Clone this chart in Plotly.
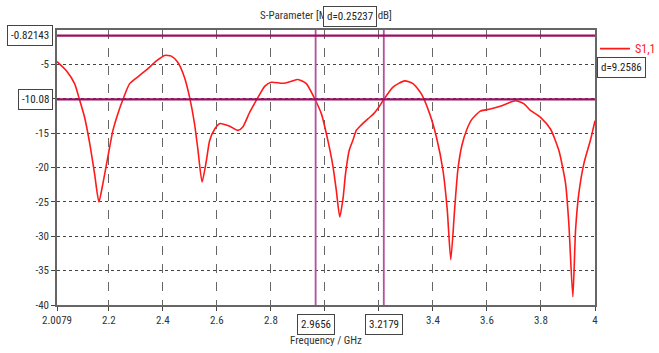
import plotly.graph_objects as go

# ---- data ----
freq_ghz = [2.0079, 2.042, 2.073, 2.091, 2.110, 2.129, 2.147, 2.163, 2.178, 2.196,
            2.215, 2.233, 2.252, 2.277, 2.314, 2.351, 2.376, 2.406, 2.431, 2.455,
            2.480, 2.499, 2.517, 2.530, 2.545, 2.561, 2.573, 2.592, 2.612, 2.647,
            2.678, 2.696, 2.721, 2.752, 2.777, 2.801, 2.845, 2.876, 2.900, 2.931,
            2.962, 2.987, 3.011, 3.030, 3.042, 3.055, 3.067, 3.076, 3.090, 3.104,
            3.116, 3.135, 3.160, 3.180, 3.200, 3.218, 3.252, 3.295, 3.326, 3.357,
            3.388, 3.413, 3.437, 3.453, 3.466, 3.480, 3.492, 3.507, 3.525, 3.544,
            3.575, 3.612, 3.649, 3.680, 3.705, 3.736, 3.761, 3.798, 3.835, 3.866,
            3.891, 3.903, 3.918, 3.928, 3.940, 3.959, 3.984, 4.0]
s11_db = [-4.6, -5.9, -7.8, -10.1, -12.7, -16.5, -20.9, -25.0, -22.3, -18.5,
          -14.6, -12.2, -10.1, -7.8, -6.6, -5.4, -4.5, -3.7, -3.8, -4.7,
          -6.9, -9.8, -13.6, -17.5, -22.1, -19.0, -16.1, -14.4, -13.6, -14.0,
          -14.6, -14.1, -12.0, -9.8, -8.2, -7.6, -7.75, -7.45, -7.2, -7.8,
          -10.0, -12.2, -16.1, -19.9, -23.3, -27.2, -24.5, -21.0, -17.5, -16.0,
          -14.6, -13.8, -12.9, -12.2, -11.2, -10.1, -8.3, -7.4, -7.8, -9.3,
          -12.2, -15.6, -20.4, -26.2, -33.4, -26.2, -20.4, -16.8, -14.5, -13.0,
          -11.8, -11.5, -11.1, -10.6, -10.3, -10.7, -11.7, -12.7, -14.4, -17.5,
          -22.3, -28.1, -38.8, -29.1, -23.8, -19.4, -15.9, -13.2]

marker_x = [2.96556, 3.21793]        # vertical markers (GHz)
marker_y = [-0.82143, -10.08]        # horizontal markers (dB)

x_ticks = [2.0079, 2.2, 2.4, 2.6, 2.8, 3.0, 3.2, 3.4, 3.6, 3.8, 4.0]
x_labels = ["2.0079", "2.2", "2.4", "2.6", "2.8", "", "", "3.4", "3.6", "3.8", "4"]
y_ticks = [-40, -35, -30, -25, -20, -15, -10, -5]
y_labels = ["-40", "-35", "-30", "-25", "-20", "-15", "", "-5"]

FONT = "Roboto Condensed, DejaVu Sans Condensed, Liberation Sans Narrow, Arial Narrow, DejaVu Sans"
H_COL = "#9a0f62"
V_COL = "#b4519c"
TXT = "#333"
FS = 11

def fnt(size=FS, color=TXT):
    return dict(family=FONT, size=size, color=color)

fig = go.Figure()
fig.add_trace(go.Scatter(x=freq_ghz, y=s11_db, mode="lines", name="S1,1",
                         line=dict(color="#ff1a1a", width=1.6, shape="spline", smoothing=0.6)))

shapes = []
for mx in marker_x:
    shapes.append(dict(type="line", xref="x", yref="paper", x0=mx, x1=mx, y0=0, y1=1,
                       line=dict(color=V_COL, width=1.8)))
for my in marker_y:
    shapes.append(dict(type="line", xref="paper", yref="y", x0=0, x1=1, y0=my, y1=my,
                       line=dict(color=H_COL, width=2.2)))

box = dict(bgcolor="white", bordercolor="#444", borderwidth=1, borderpad=3,
           font=fnt(FS, "#222"), showarrow=False)
ann = []
for mx in marker_x:
    ann.append(dict(x=mx, y=0, xref="x", yref="paper", yanchor="top", yshift=-9,
                    text=f"{mx:.4f}", **box))
for my in marker_y:
    ann.append(dict(x=0, y=my, xref="paper", yref="y", xanchor="right", xshift=-4,
                    text=f"{my:g}", **box))
dx = marker_x[1] - marker_x[0]
dy = marker_y[0] - marker_y[1]
ann.append(dict(x=(marker_x[0] + marker_x[1]) / 2, y=1, xref="x", yref="paper",
                yanchor="bottom", yshift=3, text=f"d={dx:.5f}", **box))
ann.append(dict(x=1, y=(marker_y[0] + marker_y[1]) / 2, xref="paper", yref="y",
                xanchor="left", xshift=2, text=f"d={dy:.4f}", **box))

fig.update_layout(
    width=659, height=353,
    margin=dict(l=57, r=64, t=30, b=48, autoexpand=False),
    paper_bgcolor="white", plot_bgcolor="white",
    font=fnt(),
    title=dict(text="S-Parameter [Magnitude in dB]", x=326 / 659, xanchor="center",
               y=1 - 15 / 353, yanchor="middle", font=fnt()),
    shapes=shapes, annotations=ann,
    showlegend=True,
    legend=dict(x=1.0, y=0.985, xanchor="left", yanchor="top", bgcolor="rgba(0,0,0,0)",
                itemwidth=30, font=fnt(12, "#ff1a1a")),
)
fig.update_xaxes(range=[2.0079, 4.0], tickvals=x_ticks, ticktext=x_labels,
                 showgrid=True, gridcolor="#666", griddash="dash", gridwidth=1,
                 showline=True, linecolor="#666", linewidth=1.5, mirror=True,
                 ticks="outside", ticklen=4, tickcolor="#444", zeroline=False,
                 tickfont=fnt(),
                 title=dict(text="Frequency / GHz", standoff=10, font=fnt()))
fig.update_yaxes(range=[-40, 0], tickvals=y_ticks, ticktext=y_labels,
                 showgrid=True, gridcolor="#444", griddash="dot", gridwidth=1,
                 showline=True, linecolor="#666", linewidth=1.5, mirror=True,
                 ticks="outside", ticklen=4, tickcolor="#444", zeroline=False,
                 tickfont=fnt())

fig.write_html("out.html", config={"displayModeBar": False},
               post_script="document.body.style.margin='0';document.body.style.overflow='hidden';")
